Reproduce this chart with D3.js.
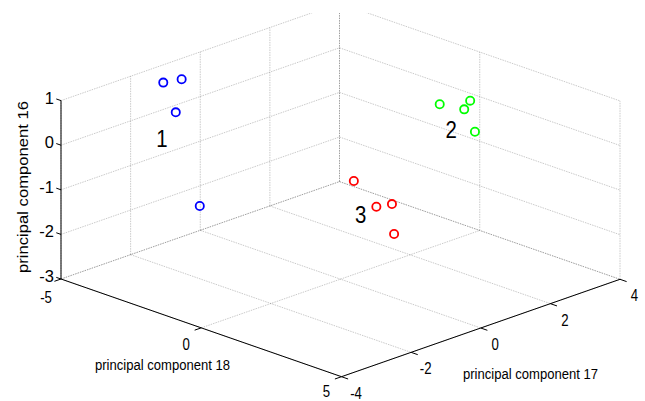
<!DOCTYPE html>
<html>
<head>
<meta charset="utf-8">
<script src="https://cdn.jsdelivr.net/npm/d3@7"></script>
<style>
  html, body { margin: 0; padding: 0; background: #fff; }
  svg { display: block; font-family: "Liberation Sans", Arial, Helvetica, sans-serif; }
</style>
</head>
<body>
<svg id="chart" width="645" height="401"></svg>
<script>
// Scores of the twelve samples on three principal components
const pc18 = [-4.32, -4.05, -3.49, -2.15,  0.36, 0.60, 0.49, 1.02,  -0.22, 0.36, 0.73, 0.93];
const pc17 = [-1.61, -1.30, -1.92, -2.31,  2.56, 3.07, 3.33, 3.04,   0.56, 0.74, 0.89, 0.79];
const pc16 = [ 0.90,  0.95,  0.50, -1.20,  0.30, 0.10, 0.20, -0.30, -1.00, -1.50, -1.40, -2.00];
const groupOf = [0, 0, 0, 0, 1, 1, 1, 1, 2, 2, 2, 2];

// Group names and where each name is written
const groupNames = ["1", "2", "3"];
const groupColors = ["#0000ff", "#00ff00", "#ff0000"];
const namePC18 = [-3.50, 1.19, 0.50];
const namePC17 = [-2.31, 2.22, 0.18];
const namePC16 = [0.0, 0.0, -1.5];

// Axis ticks
const ticks18 = [-5, 0, 5];
const ticks17 = [-4, -2, 0, 2, 4];
const ticks16 = [-3, -2, -1, 0, 1];

const svg = d3.select("#chart");

// Each axis maps its data range to 0..1 along one edge of the box
const s18 = d3.scaleLinear().domain([-5, 5]).range([0, 1]);
const s17 = d3.scaleLinear().domain([-4, 4]).range([0, 1]);
const s16 = d3.scaleLinear().domain([-3, 1]).range([0, 1]);

// Screen-space edge vectors of the box (oblique view)
const origin = [61, 279];          // (pc18=-5, pc17=-4, pc16=-3)
const e18 = [280.5, 97.7];
const e17 = [278.5, -97.4];
const e16 = [0, -178.4];

function project(a, b, z) {
  const u = s18(a), v = s17(b), w = s16(z);
  return [origin[0] + u * e18[0] + v * e17[0] + w * e16[0],
          origin[1] + u * e18[1] + v * e17[1] + w * e16[1]];
}
const norm = v => { const l = Math.hypot(v[0], v[1]); return [v[0] / l, v[1] / l]; };
const d18 = norm(e18), d17 = norm(e17);

const line = d3.line();

svg.append("defs").append("clipPath").attr("id", "plotClip")
  .append("rect").attr("x", 0).attr("y", 13).attr("width", 645).attr("height", 388);

const plot = svg.append("g").attr("clip-path", "url(#plotClip)");

// Grid segments: floor, back-left wall, back-right wall
const [a0, a1] = s18.domain(), [b0, b1] = s17.domain(), [z0, z1] = s16.domain();
const grid = [];
ticks18.forEach(a => grid.push([[a, b0, z0], [a, b1, z0]]));   // floor, along pc17
ticks17.forEach(b => grid.push([[a0, b, z0], [a1, b, z0]]));   // floor, along pc18
ticks17.forEach(b => grid.push([[a0, b, z0], [a0, b, z1]]));   // left wall verticals
ticks16.forEach(z => grid.push([[a0, b0, z], [a0, b1, z]]));   // left wall horizontals
ticks18.forEach(a => grid.push([[a, b1, z0], [a, b1, z1]]));   // right wall verticals
ticks16.forEach(z => grid.push([[a0, b1, z], [a1, b1, z]]));   // right wall horizontals

plot.append("g")
  .selectAll("path")
  .data(grid)
  .join("path")
  .attr("d", seg => line(seg.map(p => project(...p))))
  .attr("fill", "none")
  .attr("stroke", "#000")
  .attr("stroke-opacity", 0.27)
  .attr("stroke-width", 0.8)
  .attr("stroke-dasharray", "1.5,1");

// Axis lines
const axes = plot.append("g").attr("stroke", "#000").attr("stroke-width", 1).attr("fill", "none");
axes.append("path").attr("d", line([project(a0, b0, z0), project(a1, b0, z0)]));
axes.append("path").attr("d", line([project(a1, b0, z0), project(a1, b1, z0)]));
axes.append("path").attr("d", line([project(a0, b0, z0), project(a0, b0, z1)]));

// Tick marks
const tickLen = 7;
ticks18.forEach(a => {
  const p = project(a, b0, z0);
  axes.append("path").attr("d", line([p, [p[0] - tickLen * d17[0], p[1] - tickLen * d17[1]]]));
});
ticks17.forEach(b => {
  const p = project(a1, b, z0);
  axes.append("path").attr("d", line([p, [p[0] + tickLen * d18[0], p[1] + tickLen * d18[1]]]));
});
ticks16.forEach(z => {
  const p = project(a0, b0, z);
  axes.append("path").attr("d", line([p, [p[0] - 5 * d18[0], p[1] - 5 * d18[1]]]));
});

// Tick labels
const lab = svg.append("g").attr("fill", "#000").attr("font-size", 16.5);
ticks16.forEach(z => {
  const p = project(a0, b0, z);
  lab.append("text").attr("x", 54).attr("y", p[1] - 3)
    .attr("text-anchor", "end").attr("dominant-baseline", "central").text(z);
});
ticks18.forEach((a, i) => {
  const p = project(a, b0, z0);
  const dy = 17.75 - 1.75 * i;   // labels sit a little closer to the axis toward the front
  lab.append("text")
    .attr("transform", `translate(${p[0] - 15},${p[1] + dy}) scale(0.8,1)`)
    .attr("text-anchor", "middle").attr("dominant-baseline", "central").text(a);
});
ticks17.forEach(b => {
  const p = project(a1, b, z0);
  lab.append("text")
    .attr("transform", `translate(${p[0] + 14.5},${p[1] + 16}) scale(0.8,1)`)
    .attr("text-anchor", "middle").attr("dominant-baseline", "central").text(b);
});

// Axis titles
const titles = svg.append("g").attr("fill", "#000").attr("font-size", 14);
titles.append("text").attr("x", 95).attr("y", 369.5)
  .attr("textLength", 135).attr("lengthAdjust", "spacingAndGlyphs")
  .text("principal component 18");
titles.append("text").attr("x", 463).attr("y", 378.5)
  .attr("textLength", 135).attr("lengthAdjust", "spacingAndGlyphs")
  .text("principal component 17");
titles.append("text").attr("transform", "translate(27.5,273) rotate(-90)")
  .attr("textLength", 172).attr("lengthAdjust", "spacingAndGlyphs")
  .text("principal component 16");

// Samples
plot.append("g")
  .selectAll("circle")
  .data(pc18.map((a, i) => ({ a, b: pc17[i], z: pc16[i], g: groupOf[i] })))
  .join("circle")
  .attr("cx", d => project(d.a, d.b, d.z)[0])
  .attr("cy", d => project(d.a, d.b, d.z)[1])
  .attr("r", 4.1)
  .attr("fill", "none")
  .attr("stroke", d => groupColors[d.g])
  .attr("stroke-width", 1.8);

// Group names
svg.append("g")
  .selectAll("text")
  .data(groupNames)
  .join("text")
  .attr("transform", (n, i) => {
    const p = project(namePC18[i], namePC17[i], namePC16[i]);
    return `translate(${p[0]},${p[1]}) scale(0.85,1)`;
  })
  .attr("text-anchor", "middle")
  .attr("dominant-baseline", "central")
  .attr("font-size", 24)
  .attr("fill", "#000")
  .text(n => n);
</script>
</body>
</html>
